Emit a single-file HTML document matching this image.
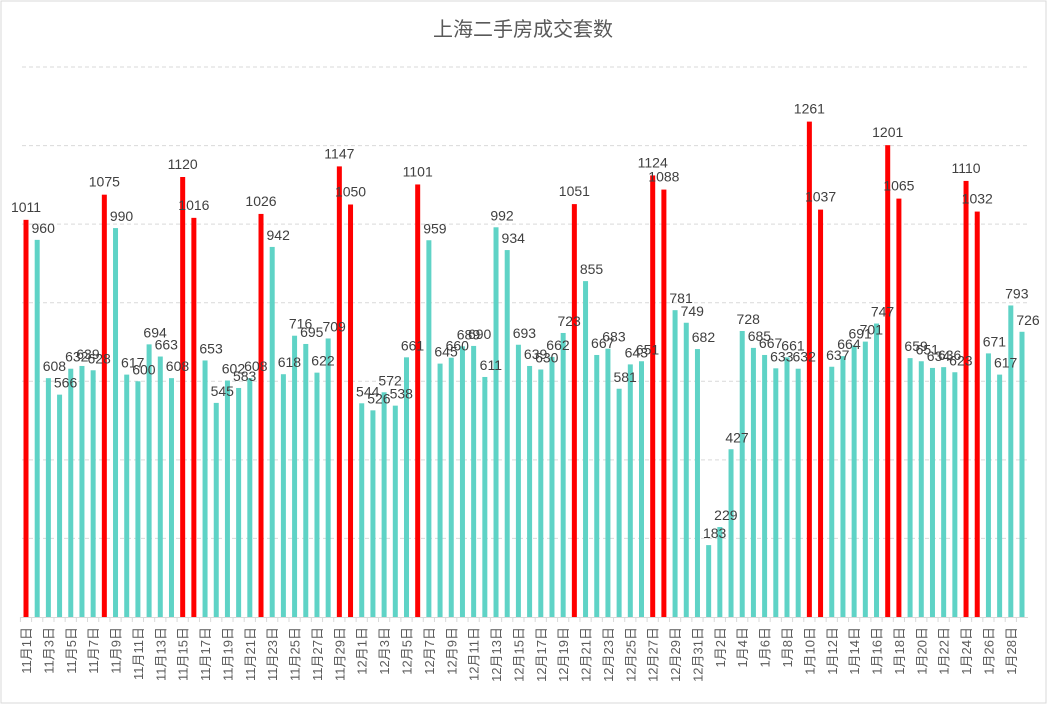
<!DOCTYPE html>
<html><head><meta charset="utf-8"><style>
body{margin:0;background:#fff;}
svg{display:block;font-family:"Liberation Sans","Noto Sans CJK SC",sans-serif;}
</style></head><body>
<svg id="c" width="1047" height="704" viewBox="0 0 1047 704">
<rect x="1" y="1" width="1045" height="702" fill="#fff" stroke="#d9d9d9"/>
<text x="523" y="36" text-anchor="middle" font-size="20" fill="#595959">上海二手房成交套数</text>
<g id="grid"></g><g id="bars"></g><g id="labels"></g><g id="xaxis"></g>
</svg>
<script>
const categories = [];
const monthDays = [["11",30],["12",31],["1",29]];
const values = [1011,960,608,566,632,639,628,1075,990,617,600,694,663,608,1120,1016,653,545,602,583,608,1026,942,618,716,695,622,709,1147,1050,
544,526,572,538,661,1101,959,645,660,689,690,611,992,934,693,639,630,662,723,1051,855,667,683,581,643,651,1124,1088,781,749,682,
183,229,427,728,685,667,633,661,632,1261,1037,637,664,691,701,747,1201,1065,659,651,634,636,623,1110,1032,671,617,793,726];
const highlighted = [0,7,14,15,21,28,29,35,49,56,57,70,71,77,78,84,85];
const yTicks = [0,200,400,600,800,1000,1200,1400];
monthDays.forEach(([m,n])=>{for(let d=1;d<=n;d++)categories.push(m+"月"+d+"日");});
const NS="http://www.w3.org/2000/svg";
const x0=26, step=(1022-26)/89, base=617, yMax=1400, yTop=67;
const X=i=>x0+i*step;
const Y=v=>base-(v/yMax)*(base-yTop);
function mk(tag,attrs,parent){const e=document.createElementNS(NS,tag);for(const k in attrs)e.setAttribute(k,attrs[k]);parent.appendChild(e);return e;}
const grid=document.getElementById('grid'),bars=document.getElementById('bars'),labels=document.getElementById('labels'),xa=document.getElementById('xaxis');
yTicks.forEach(t=>{if(t===0)return;const l=mk('line',{x1:22,x2:1030,y1:Y(t),y2:Y(t),stroke:'#d9d9d9','stroke-dasharray':'4,3'},grid);

});
const ax=mk('line',{x1:20.5,x2:1028,y1:base+0.5,y2:base+0.5,stroke:'#d9d9d9'},xa);


values.forEach((v,i)=>{
  const red=highlighted.includes(i);
  const r=mk('rect',{x:X(i)-2.5,y:Y(v),width:5,height:base-Y(v),fill:red?'#ff0000':'#5fd3c6'},bars);
  
  
  const t=mk('text',{x:X(i)+(red?0:6),y:Y(v)-(red?8:7),'text-anchor':'middle','font-size':14,fill:'#404040'},labels);
  t.textContent=v;
  
  
  const tk=mk('line',{x1:X(i)-step/2,x2:X(i)-step/2,y1:base,y2:base+5,stroke:'#d9d9d9'},xa);
  
  
  if(i%2===0){
    const lt=mk('text',{transform:`translate(${X(i)+5},${base+10}) rotate(-90)`,'text-anchor':'end','font-size':13,fill:'#595959'},xa);
    lt.textContent=categories[i];
    
    
  }
});
</script>
</body></html>
